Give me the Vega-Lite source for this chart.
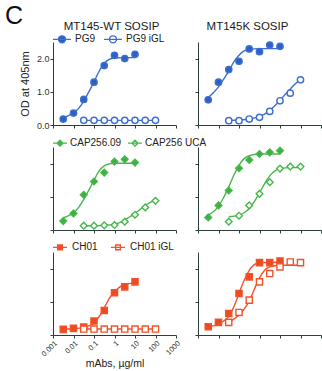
{
  "$schema": "https://vega.github.io/schema/vega-lite/v6.json",
  "background": "white",
  "padding": {"left": 5, "top": 4, "right": 0, "bottom": 0},
  "title": {"text": "C", "anchor": "start", "frame": "group", "fontSize": 25, "fontWeight": "normal", "color": "#111", "dx": -48, "offset": -8.5},
  "columns": 2,
  "spacing": {"row": 22, "column": 22},
  "bounds": "flush",
  "resolve": {"scale": {"fill": "independent", "stroke": "independent", "x": "independent", "y": "independent"}},
  "datasets": {
    "pts": [
      {"panel": "1L", "series": "PG9", "x": 0.00316, "y": 0.18},
      {"panel": "1L", "series": "PG9", "x": 0.01, "y": 0.36},
      {"panel": "1L", "series": "PG9", "x": 0.0316, "y": 0.77},
      {"panel": "1L", "series": "PG9", "x": 0.1, "y": 1.29},
      {"panel": "1L", "series": "PG9", "x": 0.316, "y": 1.79},
      {"panel": "1L", "series": "PG9", "x": 1, "y": 2.1},
      {"panel": "1L", "series": "PG9", "x": 3.16, "y": 2.0},
      {"panel": "1L", "series": "PG9", "x": 10, "y": 2.13},
      {"panel": "1L", "series": "PG9 iGL", "x": 0.0316, "y": 0.14},
      {"panel": "1L", "series": "PG9 iGL", "x": 0.1, "y": 0.14},
      {"panel": "1L", "series": "PG9 iGL", "x": 0.316, "y": 0.14},
      {"panel": "1L", "series": "PG9 iGL", "x": 1, "y": 0.14},
      {"panel": "1L", "series": "PG9 iGL", "x": 3.16, "y": 0.14},
      {"panel": "1L", "series": "PG9 iGL", "x": 10, "y": 0.14},
      {"panel": "1L", "series": "PG9 iGL", "x": 31.6, "y": 0.14},
      {"panel": "1L", "series": "PG9 iGL", "x": 100, "y": 0.14},
      {"panel": "1R", "series": "PG9", "x": 0.00316, "y": 0.76},
      {"panel": "1R", "series": "PG9", "x": 0.01, "y": 1.29},
      {"panel": "1R", "series": "PG9", "x": 0.0316, "y": 1.67},
      {"panel": "1R", "series": "PG9", "x": 0.1, "y": 1.92},
      {"panel": "1R", "series": "PG9", "x": 0.316, "y": 2.29},
      {"panel": "1R", "series": "PG9", "x": 1, "y": 2.21},
      {"panel": "1R", "series": "PG9", "x": 3.16, "y": 2.41},
      {"panel": "1R", "series": "PG9", "x": 10, "y": 2.37},
      {"panel": "1R", "series": "PG9 iGL", "x": 0.0316, "y": 0.13},
      {"panel": "1R", "series": "PG9 iGL", "x": 0.1, "y": 0.13},
      {"panel": "1R", "series": "PG9 iGL", "x": 0.316, "y": 0.18},
      {"panel": "1R", "series": "PG9 iGL", "x": 1, "y": 0.23},
      {"panel": "1R", "series": "PG9 iGL", "x": 3.16, "y": 0.41},
      {"panel": "1R", "series": "PG9 iGL", "x": 10, "y": 0.73},
      {"panel": "1R", "series": "PG9 iGL", "x": 31.6, "y": 0.96},
      {"panel": "1R", "series": "PG9 iGL", "x": 100, "y": 1.36},
      {"panel": "2L", "series": "CAP256.09", "x": 0.00316, "y": 0.27},
      {"panel": "2L", "series": "CAP256.09", "x": 0.01, "y": 0.5},
      {"panel": "2L", "series": "CAP256.09", "x": 0.0316, "y": 1.06},
      {"panel": "2L", "series": "CAP256.09", "x": 0.1, "y": 1.46},
      {"panel": "2L", "series": "CAP256.09", "x": 0.316, "y": 1.73},
      {"panel": "2L", "series": "CAP256.09", "x": 1, "y": 2.06},
      {"panel": "2L", "series": "CAP256.09", "x": 3.16, "y": 2.13},
      {"panel": "2L", "series": "CAP256.09", "x": 10, "y": 2.03},
      {"panel": "2L", "series": "CAP256 UCA", "x": 0.0316, "y": 0.13},
      {"panel": "2L", "series": "CAP256 UCA", "x": 0.1, "y": 0.13},
      {"panel": "2L", "series": "CAP256 UCA", "x": 0.316, "y": 0.14},
      {"panel": "2L", "series": "CAP256 UCA", "x": 1, "y": 0.15},
      {"panel": "2L", "series": "CAP256 UCA", "x": 3.16, "y": 0.25},
      {"panel": "2L", "series": "CAP256 UCA", "x": 10, "y": 0.46},
      {"panel": "2L", "series": "CAP256 UCA", "x": 31.6, "y": 0.68},
      {"panel": "2L", "series": "CAP256 UCA", "x": 100, "y": 0.88},
      {"panel": "2R", "series": "CAP256.09", "x": 0.00316, "y": 0.38},
      {"panel": "2R", "series": "CAP256.09", "x": 0.01, "y": 0.74},
      {"panel": "2R", "series": "CAP256.09", "x": 0.0316, "y": 1.19},
      {"panel": "2R", "series": "CAP256.09", "x": 0.1, "y": 1.86},
      {"panel": "2R", "series": "CAP256.09", "x": 0.316, "y": 2.11},
      {"panel": "2R", "series": "CAP256.09", "x": 1, "y": 2.29},
      {"panel": "2R", "series": "CAP256.09", "x": 3.16, "y": 2.34},
      {"panel": "2R", "series": "CAP256.09", "x": 10, "y": 2.39},
      {"panel": "2R", "series": "CAP256 UCA", "x": 0.0316, "y": 0.25},
      {"panel": "2R", "series": "CAP256 UCA", "x": 0.1, "y": 0.43},
      {"panel": "2R", "series": "CAP256 UCA", "x": 0.316, "y": 0.74},
      {"panel": "2R", "series": "CAP256 UCA", "x": 1, "y": 1.09},
      {"panel": "2R", "series": "CAP256 UCA", "x": 3.16, "y": 1.44},
      {"panel": "2R", "series": "CAP256 UCA", "x": 10, "y": 1.85},
      {"panel": "2R", "series": "CAP256 UCA", "x": 31.6, "y": 1.91},
      {"panel": "2R", "series": "CAP256 UCA", "x": 100, "y": 1.91},
      {"panel": "3L", "series": "CH01", "x": 0.00316, "y": 0.17},
      {"panel": "3L", "series": "CH01", "x": 0.01, "y": 0.2},
      {"panel": "3L", "series": "CH01", "x": 0.0316, "y": 0.24},
      {"panel": "3L", "series": "CH01", "x": 0.1, "y": 0.42},
      {"panel": "3L", "series": "CH01", "x": 0.316, "y": 0.74},
      {"panel": "3L", "series": "CH01", "x": 1, "y": 1.27},
      {"panel": "3L", "series": "CH01", "x": 3.16, "y": 1.45},
      {"panel": "3L", "series": "CH01", "x": 10, "y": 1.6},
      {"panel": "3L", "series": "CH01 iGL", "x": 0.0316, "y": 0.18},
      {"panel": "3L", "series": "CH01 iGL", "x": 0.1, "y": 0.18},
      {"panel": "3L", "series": "CH01 iGL", "x": 0.316, "y": 0.18},
      {"panel": "3L", "series": "CH01 iGL", "x": 1, "y": 0.18},
      {"panel": "3L", "series": "CH01 iGL", "x": 3.16, "y": 0.18},
      {"panel": "3L", "series": "CH01 iGL", "x": 10, "y": 0.18},
      {"panel": "3L", "series": "CH01 iGL", "x": 31.6, "y": 0.18},
      {"panel": "3L", "series": "CH01 iGL", "x": 100, "y": 0.18},
      {"panel": "3R", "series": "CH01", "x": 0.00316, "y": 0.25},
      {"panel": "3R", "series": "CH01", "x": 0.01, "y": 0.38},
      {"panel": "3R", "series": "CH01", "x": 0.0316, "y": 0.65},
      {"panel": "3R", "series": "CH01", "x": 0.1, "y": 1.25},
      {"panel": "3R", "series": "CH01", "x": 0.316, "y": 1.75},
      {"panel": "3R", "series": "CH01", "x": 1, "y": 2.18},
      {"panel": "3R", "series": "CH01", "x": 3.16, "y": 2.18},
      {"panel": "3R", "series": "CH01", "x": 10, "y": 2.23},
      {"panel": "3R", "series": "CH01 iGL", "x": 0.0316, "y": 0.38},
      {"panel": "3R", "series": "CH01 iGL", "x": 0.1, "y": 0.68},
      {"panel": "3R", "series": "CH01 iGL", "x": 0.316, "y": 1.05},
      {"panel": "3R", "series": "CH01 iGL", "x": 1, "y": 1.6},
      {"panel": "3R", "series": "CH01 iGL", "x": 3.16, "y": 1.85},
      {"panel": "3R", "series": "CH01 iGL", "x": 10, "y": 2.05},
      {"panel": "3R", "series": "CH01 iGL", "x": 31.6, "y": 2.2},
      {"panel": "3R", "series": "CH01 iGL", "x": 100, "y": 2.18}
    ],
    "crv": [
      {"panel": "1L", "series": "PG9", "x": 0.00316, "y": 0.22},
      {"panel": "1L", "series": "PG9", "x": 0.0056, "y": 0.28},
      {"panel": "1L", "series": "PG9", "x": 0.01, "y": 0.37},
      {"panel": "1L", "series": "PG9", "x": 0.0178, "y": 0.5},
      {"panel": "1L", "series": "PG9", "x": 0.0316, "y": 0.72},
      {"panel": "1L", "series": "PG9", "x": 0.056, "y": 1.0},
      {"panel": "1L", "series": "PG9", "x": 0.1, "y": 1.3},
      {"panel": "1L", "series": "PG9", "x": 0.178, "y": 1.62},
      {"panel": "1L", "series": "PG9", "x": 0.316, "y": 1.86},
      {"panel": "1L", "series": "PG9", "x": 0.56, "y": 1.98},
      {"panel": "1L", "series": "PG9", "x": 1, "y": 2.02},
      {"panel": "1L", "series": "PG9", "x": 3.16, "y": 2.03},
      {"panel": "1L", "series": "PG9", "x": 10, "y": 2.03},
      {"panel": "1L", "series": "PG9 iGL", "x": 0.0316, "y": 0.14},
      {"panel": "1L", "series": "PG9 iGL", "x": 100, "y": 0.14},
      {"panel": "1R", "series": "PG9", "x": 0.00316, "y": 0.83},
      {"panel": "1R", "series": "PG9", "x": 0.0056, "y": 0.97},
      {"panel": "1R", "series": "PG9", "x": 0.01, "y": 1.15},
      {"panel": "1R", "series": "PG9", "x": 0.0178, "y": 1.38},
      {"panel": "1R", "series": "PG9", "x": 0.0316, "y": 1.62},
      {"panel": "1R", "series": "PG9", "x": 0.056, "y": 1.9},
      {"panel": "1R", "series": "PG9", "x": 0.1, "y": 2.1},
      {"panel": "1R", "series": "PG9", "x": 0.178, "y": 2.23},
      {"panel": "1R", "series": "PG9", "x": 0.316, "y": 2.28},
      {"panel": "1R", "series": "PG9", "x": 1, "y": 2.3},
      {"panel": "1R", "series": "PG9", "x": 10, "y": 2.3},
      {"panel": "1R", "series": "PG9 iGL", "x": 0.0316, "y": 0.14},
      {"panel": "1R", "series": "PG9 iGL", "x": 0.1, "y": 0.15},
      {"panel": "1R", "series": "PG9 iGL", "x": 0.316, "y": 0.18},
      {"panel": "1R", "series": "PG9 iGL", "x": 1, "y": 0.26},
      {"panel": "1R", "series": "PG9 iGL", "x": 1.78, "y": 0.33},
      {"panel": "1R", "series": "PG9 iGL", "x": 3.16, "y": 0.44},
      {"panel": "1R", "series": "PG9 iGL", "x": 5.6, "y": 0.58},
      {"panel": "1R", "series": "PG9 iGL", "x": 10, "y": 0.74},
      {"panel": "1R", "series": "PG9 iGL", "x": 17.8, "y": 0.92},
      {"panel": "1R", "series": "PG9 iGL", "x": 31.6, "y": 1.08},
      {"panel": "1R", "series": "PG9 iGL", "x": 56, "y": 1.24},
      {"panel": "1R", "series": "PG9 iGL", "x": 100, "y": 1.37},
      {"panel": "2L", "series": "CAP256.09", "x": 0.00316, "y": 0.37},
      {"panel": "2L", "series": "CAP256.09", "x": 0.01, "y": 0.52},
      {"panel": "2L", "series": "CAP256.09", "x": 0.0178, "y": 0.68},
      {"panel": "2L", "series": "CAP256.09", "x": 0.0316, "y": 0.92},
      {"panel": "2L", "series": "CAP256.09", "x": 0.056, "y": 1.2},
      {"panel": "2L", "series": "CAP256.09", "x": 0.1, "y": 1.5},
      {"panel": "2L", "series": "CAP256.09", "x": 0.178, "y": 1.78},
      {"panel": "2L", "series": "CAP256.09", "x": 0.316, "y": 1.93},
      {"panel": "2L", "series": "CAP256.09", "x": 0.56, "y": 1.99},
      {"panel": "2L", "series": "CAP256.09", "x": 1, "y": 2.01},
      {"panel": "2L", "series": "CAP256.09", "x": 10, "y": 2.01},
      {"panel": "2L", "series": "CAP256 UCA", "x": 0.0316, "y": 0.13},
      {"panel": "2L", "series": "CAP256 UCA", "x": 0.1, "y": 0.13},
      {"panel": "2L", "series": "CAP256 UCA", "x": 0.316, "y": 0.14},
      {"panel": "2L", "series": "CAP256 UCA", "x": 1, "y": 0.17},
      {"panel": "2L", "series": "CAP256 UCA", "x": 1.78, "y": 0.22},
      {"panel": "2L", "series": "CAP256 UCA", "x": 3.16, "y": 0.3},
      {"panel": "2L", "series": "CAP256 UCA", "x": 5.6, "y": 0.4},
      {"panel": "2L", "series": "CAP256 UCA", "x": 10, "y": 0.5},
      {"panel": "2L", "series": "CAP256 UCA", "x": 17.8, "y": 0.62},
      {"panel": "2L", "series": "CAP256 UCA", "x": 31.6, "y": 0.74},
      {"panel": "2L", "series": "CAP256 UCA", "x": 56, "y": 0.83},
      {"panel": "2L", "series": "CAP256 UCA", "x": 100, "y": 0.89},
      {"panel": "2R", "series": "CAP256.09", "x": 0.00316, "y": 0.45},
      {"panel": "2R", "series": "CAP256.09", "x": 0.0056, "y": 0.55},
      {"panel": "2R", "series": "CAP256.09", "x": 0.01, "y": 0.72},
      {"panel": "2R", "series": "CAP256.09", "x": 0.0178, "y": 0.98},
      {"panel": "2R", "series": "CAP256.09", "x": 0.0316, "y": 1.3},
      {"panel": "2R", "series": "CAP256.09", "x": 0.056, "y": 1.65},
      {"panel": "2R", "series": "CAP256.09", "x": 0.1, "y": 1.95},
      {"panel": "2R", "series": "CAP256.09", "x": 0.178, "y": 2.15},
      {"panel": "2R", "series": "CAP256.09", "x": 0.316, "y": 2.24},
      {"panel": "2R", "series": "CAP256.09", "x": 1, "y": 2.29},
      {"panel": "2R", "series": "CAP256.09", "x": 10, "y": 2.29},
      {"panel": "2R", "series": "CAP256 UCA", "x": 0.0316, "y": 0.4},
      {"panel": "2R", "series": "CAP256 UCA", "x": 0.1, "y": 0.45},
      {"panel": "2R", "series": "CAP256 UCA", "x": 0.178, "y": 0.52},
      {"panel": "2R", "series": "CAP256 UCA", "x": 0.316, "y": 0.65},
      {"panel": "2R", "series": "CAP256 UCA", "x": 0.56, "y": 0.86},
      {"panel": "2R", "series": "CAP256 UCA", "x": 1, "y": 1.12},
      {"panel": "2R", "series": "CAP256 UCA", "x": 1.78, "y": 1.4},
      {"panel": "2R", "series": "CAP256 UCA", "x": 3.16, "y": 1.63},
      {"panel": "2R", "series": "CAP256 UCA", "x": 5.6, "y": 1.78},
      {"panel": "2R", "series": "CAP256 UCA", "x": 10, "y": 1.85},
      {"panel": "2R", "series": "CAP256 UCA", "x": 31.6, "y": 1.88},
      {"panel": "2R", "series": "CAP256 UCA", "x": 100, "y": 1.88},
      {"panel": "3L", "series": "CH01", "x": 0.00316, "y": 0.18},
      {"panel": "3L", "series": "CH01", "x": 0.01, "y": 0.19},
      {"panel": "3L", "series": "CH01", "x": 0.0316, "y": 0.23},
      {"panel": "3L", "series": "CH01", "x": 0.1, "y": 0.37},
      {"panel": "3L", "series": "CH01", "x": 0.178, "y": 0.55},
      {"panel": "3L", "series": "CH01", "x": 0.316, "y": 0.82},
      {"panel": "3L", "series": "CH01", "x": 0.56, "y": 1.1},
      {"panel": "3L", "series": "CH01", "x": 1, "y": 1.3},
      {"panel": "3L", "series": "CH01", "x": 1.78, "y": 1.44},
      {"panel": "3L", "series": "CH01", "x": 3.16, "y": 1.52},
      {"panel": "3L", "series": "CH01", "x": 10, "y": 1.57},
      {"panel": "3L", "series": "CH01 iGL", "x": 0.0316, "y": 0.18},
      {"panel": "3L", "series": "CH01 iGL", "x": 100, "y": 0.18},
      {"panel": "3R", "series": "CH01", "x": 0.00316, "y": 0.25},
      {"panel": "3R", "series": "CH01", "x": 0.01, "y": 0.33},
      {"panel": "3R", "series": "CH01", "x": 0.0178, "y": 0.42},
      {"panel": "3R", "series": "CH01", "x": 0.0316, "y": 0.56},
      {"panel": "3R", "series": "CH01", "x": 0.056, "y": 0.85},
      {"panel": "3R", "series": "CH01", "x": 0.1, "y": 1.25},
      {"panel": "3R", "series": "CH01", "x": 0.178, "y": 1.65},
      {"panel": "3R", "series": "CH01", "x": 0.316, "y": 1.95},
      {"panel": "3R", "series": "CH01", "x": 0.56, "y": 2.12},
      {"panel": "3R", "series": "CH01", "x": 1, "y": 2.18},
      {"panel": "3R", "series": "CH01", "x": 10, "y": 2.19},
      {"panel": "3R", "series": "CH01 iGL", "x": 0.0316, "y": 0.38},
      {"panel": "3R", "series": "CH01 iGL", "x": 0.1, "y": 0.6},
      {"panel": "3R", "series": "CH01 iGL", "x": 0.178, "y": 0.78},
      {"panel": "3R", "series": "CH01 iGL", "x": 0.316, "y": 1.02},
      {"panel": "3R", "series": "CH01 iGL", "x": 0.56, "y": 1.38},
      {"panel": "3R", "series": "CH01 iGL", "x": 1, "y": 1.72},
      {"panel": "3R", "series": "CH01 iGL", "x": 1.78, "y": 1.95},
      {"panel": "3R", "series": "CH01 iGL", "x": 3.16, "y": 2.05},
      {"panel": "3R", "series": "CH01 iGL", "x": 10, "y": 2.1},
      {"panel": "3R", "series": "CH01 iGL", "x": 100, "y": 2.1}
    ]
  },
  "concat": [
    {
      "width": 123, "height": 83,
      "title": {"text": "MT145-WT SOSIP", "dx": -3, "offset": -3},
      "layer": [
        {"data": {"name": "crv"}, "transform": [{"filter": "datum.panel === '1L'"}],
         "mark": {"type": "line", "strokeWidth": 1.4, "interpolate": "monotone"},
         "encoding": {
           "x": {"field": "x", "type": "quantitative", "scale": {"type": "log", "domain": [0.001, 1000], "nice": false}, "axis": {"values": [0.001, 0.01, 0.1, 1, 10, 100, 1000], "labels": false, "title": null}},
           "y": {"field": "y", "type": "quantitative", "scale": {"domain": [0, 2.5], "nice": false}, "axis": {"values": [0, 0.5, 1, 1.5, 2, 2.5], "format": ".1f", "title": "OD at 405nm", "titlePadding": 6}},
           "stroke": {"field": "series", "type": "nominal", "scale": {"domain": ["PG9", "PG9 iGL"], "range": ["#3d6fcf", "#3d6fcf"]}, "legend": {"orient": "none", "legendX": -1, "legendY": -13, "direction": "horizontal", "title": null, "symbolType": "M-1,0H1M-0.39,0A0.39,0.39,0,1,0,0.39,0A0.39,0.39,0,1,0,-0.39,0", "symbolSize": 324, "symbolStrokeWidth": 1.4, "labelFontSize": 10, "labelOffset": 3, "columnPadding": 5, "labelColor": "#222"}}
         }},
        {"data": {"name": "pts"}, "transform": [{"filter": "datum.panel === '1L'"}],
         "mark": {"type": "point", "shape": "circle", "size": 40, "strokeWidth": 1.4, "opacity": 1, "filled": true},
         "encoding": {
           "x": {"field": "x", "type": "quantitative"},
           "y": {"field": "y", "type": "quantitative"},
           "stroke": {"field": "series", "type": "nominal"},
           "fill": {"field": "series", "type": "nominal", "scale": {"domain": ["PG9", "PG9 iGL"], "range": ["#2e5fc6", "white"]}, "legend": {"orient": "none", "legendX": -1, "legendY": -13, "direction": "horizontal", "title": null, "symbolType": "M-1,0H1M-0.39,0A0.39,0.39,0,1,0,0.39,0A0.39,0.39,0,1,0,-0.39,0", "symbolSize": 324, "symbolStrokeWidth": 1.4, "labelFontSize": 10, "labelOffset": 3, "columnPadding": 5, "labelColor": "#222"}}
         }}
      ]
    },
    {
      "width": 123, "height": 83,
      "title": {"text": "MT145K SOSIP", "dx": -12, "offset": -3},
      "layer": [
        {"data": {"name": "crv"}, "transform": [{"filter": "datum.panel === '1R'"}],
         "mark": {"type": "line", "strokeWidth": 1.4, "interpolate": "monotone"},
         "encoding": {
           "x": {"field": "x", "type": "quantitative", "scale": {"type": "log", "domain": [0.001, 1000], "nice": false}, "axis": {"values": [0.001, 0.01, 0.1, 1, 10, 100, 1000], "labels": false, "title": null}},
           "y": {"field": "y", "type": "quantitative", "scale": {"domain": [0, 2.5], "nice": false}, "axis": {"values": [0, 0.5, 1, 1.5, 2, 2.5], "labels": false, "title": null}},
           "stroke": {"field": "series", "type": "nominal", "scale": {"domain": ["PG9", "PG9 iGL"], "range": ["#3d6fcf", "#3d6fcf"]}, "legend": {"orient": "none", "legendX": -1, "legendY": -13, "direction": "horizontal", "title": null, "symbolType": "M0,0", "symbolSize": 324, "symbolStrokeWidth": 0, "labelFontSize": 10, "labelOffset": 3, "columnPadding": 5, "labelOpacity": 0, "labelColor": "white"}}
         }},
        {"data": {"name": "pts"}, "transform": [{"filter": "datum.panel === '1R'"}],
         "mark": {"type": "point", "shape": "circle", "size": 40, "strokeWidth": 1.4, "opacity": 1, "filled": true},
         "encoding": {
           "x": {"field": "x", "type": "quantitative"},
           "y": {"field": "y", "type": "quantitative"},
           "stroke": {"field": "series", "type": "nominal"},
           "fill": {"field": "series", "type": "nominal", "scale": {"domain": ["PG9", "PG9 iGL"], "range": ["#2e5fc6", "white"]}, "legend": {"orient": "none", "legendX": -1, "legendY": -13, "direction": "horizontal", "title": null, "symbolType": "M0,0", "symbolSize": 324, "symbolStrokeWidth": 0, "labelFontSize": 10, "labelOffset": 3, "columnPadding": 5, "labelOpacity": 0, "labelColor": "white"}}
         }}
      ]
    },
    {
      "width": 123, "height": 83,
      "layer": [
        {"data": {"name": "crv"}, "transform": [{"filter": "datum.panel === '2L'"}],
         "mark": {"type": "line", "strokeWidth": 1.4, "interpolate": "monotone"},
         "encoding": {
           "x": {"field": "x", "type": "quantitative", "scale": {"type": "log", "domain": [0.001, 1000], "nice": false}, "axis": {"values": [0.001, 0.01, 0.1, 1, 10, 100, 1000], "labels": false, "title": null}},
           "y": {"field": "y", "type": "quantitative", "scale": {"domain": [0, 2.5], "nice": false}, "axis": {"values": [0, 0.5, 1, 1.5, 2, 2.5], "labels": false, "title": null}},
           "stroke": {"field": "series", "type": "nominal", "scale": {"domain": ["CAP256.09", "CAP256 UCA"], "range": ["#46b84a", "#46b84a"]}, "legend": {"orient": "none", "legendX": -1, "legendY": -12, "direction": "horizontal", "title": null, "symbolType": "M-1,0H1M0,-0.42L0.42,0L0,0.42L-0.42,0Z", "symbolSize": 196, "symbolStrokeWidth": 1.4, "labelFontSize": 10, "labelOffset": 2, "columnPadding": 3, "labelColor": "#222"}}
         }},
        {"data": {"name": "pts"}, "transform": [{"filter": "datum.panel === '2L'"}],
         "mark": {"type": "point", "shape": "diamond", "size": 45, "strokeWidth": 1.4, "opacity": 1, "filled": true},
         "encoding": {
           "x": {"field": "x", "type": "quantitative"},
           "y": {"field": "y", "type": "quantitative"},
           "stroke": {"field": "series", "type": "nominal"},
           "fill": {"field": "series", "type": "nominal", "scale": {"domain": ["CAP256.09", "CAP256 UCA"], "range": ["#3cb040", "white"]}, "legend": {"orient": "none", "legendX": -1, "legendY": -12, "direction": "horizontal", "title": null, "symbolType": "M-1,0H1M0,-0.42L0.42,0L0,0.42L-0.42,0Z", "symbolSize": 196, "symbolStrokeWidth": 1.4, "labelFontSize": 10, "labelOffset": 2, "columnPadding": 3, "labelColor": "#222"}}
         }}
      ]
    },
    {
      "width": 123, "height": 83,
      "layer": [
        {"data": {"name": "crv"}, "transform": [{"filter": "datum.panel === '2R'"}],
         "mark": {"type": "line", "strokeWidth": 1.4, "interpolate": "monotone"},
         "encoding": {
           "x": {"field": "x", "type": "quantitative", "scale": {"type": "log", "domain": [0.001, 1000], "nice": false}, "axis": {"values": [0.001, 0.01, 0.1, 1, 10, 100, 1000], "labels": false, "title": null}},
           "y": {"field": "y", "type": "quantitative", "scale": {"domain": [0, 2.5], "nice": false}, "axis": {"values": [0, 0.5, 1, 1.5, 2, 2.5], "labels": false, "title": null}},
           "stroke": {"field": "series", "type": "nominal", "scale": {"domain": ["CAP256.09", "CAP256 UCA"], "range": ["#46b84a", "#46b84a"]}, "legend": null}
         }},
        {"data": {"name": "pts"}, "transform": [{"filter": "datum.panel === '2R'"}],
         "mark": {"type": "point", "shape": "diamond", "size": 45, "strokeWidth": 1.4, "opacity": 1, "filled": true},
         "encoding": {
           "x": {"field": "x", "type": "quantitative"},
           "y": {"field": "y", "type": "quantitative"},
           "stroke": {"field": "series", "type": "nominal", "legend": null},
           "fill": {"field": "series", "type": "nominal", "scale": {"domain": ["CAP256.09", "CAP256 UCA"], "range": ["#3cb040", "white"]}, "legend": null}
         }}
      ]
    },
    {
      "width": 123, "height": 83,
      "layer": [
        {"data": {"name": "crv"}, "transform": [{"filter": "datum.panel === '3L'"}],
         "mark": {"type": "line", "strokeWidth": 1.4, "interpolate": "monotone"},
         "encoding": {
           "x": {"field": "x", "type": "quantitative", "scale": {"type": "log", "domain": [0.001, 1000], "nice": false}, "axis": {"values": [0.001, 0.01, 0.1, 1, 10, 100, 1000], "format": "~g", "labelAngle": -45, "labelFontSize": 7.5, "title": "mAbs, µg/ml", "titleFontSize": 10.5, "titlePadding": 1}},
           "y": {"field": "y", "type": "quantitative", "scale": {"domain": [0, 2.5], "nice": false}, "axis": {"values": [0, 0.5, 1, 1.5, 2, 2.5], "labels": false, "title": null}},
           "stroke": {"field": "series", "type": "nominal", "scale": {"domain": ["CH01", "CH01 iGL"], "range": ["#f0532a", "#f0532a"]}, "legend": {"orient": "none", "legendX": -1, "legendY": -13, "direction": "horizontal", "title": null, "symbolType": "M-1,0H1M-0.34,-0.34H0.34V0.34H-0.34Z", "symbolSize": 196, "symbolStrokeWidth": 1.4, "labelFontSize": 10, "labelOffset": 4, "columnPadding": 10, "labelColor": "#222"}}
         }},
        {"data": {"name": "pts"}, "transform": [{"filter": "datum.panel === '3L'"}],
         "mark": {"type": "point", "shape": "square", "size": 38, "strokeWidth": 1.4, "opacity": 1, "filled": true},
         "encoding": {
           "x": {"field": "x", "type": "quantitative"},
           "y": {"field": "y", "type": "quantitative"},
           "stroke": {"field": "series", "type": "nominal"},
           "fill": {"field": "series", "type": "nominal", "scale": {"domain": ["CH01", "CH01 iGL"], "range": ["#ee4a22", "white"]}, "legend": {"orient": "none", "legendX": -1, "legendY": -13, "direction": "horizontal", "title": null, "symbolType": "M-1,0H1M-0.34,-0.34H0.34V0.34H-0.34Z", "symbolSize": 196, "symbolStrokeWidth": 1.4, "labelFontSize": 10, "labelOffset": 4, "columnPadding": 10, "labelColor": "#222"}}
         }}
      ]
    },
    {
      "width": 123, "height": 83,
      "layer": [
        {"data": {"name": "crv"}, "transform": [{"filter": "datum.panel === '3R'"}],
         "mark": {"type": "line", "strokeWidth": 1.4, "interpolate": "monotone"},
         "encoding": {
           "x": {"field": "x", "type": "quantitative", "scale": {"type": "log", "domain": [0.001, 1000], "nice": false}, "axis": {"values": [0.001, 0.01, 0.1, 1, 10, 100, 1000], "labels": false, "title": null}},
           "y": {"field": "y", "type": "quantitative", "scale": {"domain": [0, 2.5], "nice": false}, "axis": {"values": [0, 0.5, 1, 1.5, 2, 2.5], "labels": false, "title": null}},
           "stroke": {"field": "series", "type": "nominal", "scale": {"domain": ["CH01", "CH01 iGL"], "range": ["#f0532a", "#f0532a"]}, "legend": null}
         }},
        {"data": {"name": "pts"}, "transform": [{"filter": "datum.panel === '3R'"}],
         "mark": {"type": "point", "shape": "square", "size": 38, "strokeWidth": 1.4, "opacity": 1, "filled": true},
         "encoding": {
           "x": {"field": "x", "type": "quantitative"},
           "y": {"field": "y", "type": "quantitative"},
           "stroke": {"field": "series", "type": "nominal", "legend": null},
           "fill": {"field": "series", "type": "nominal", "scale": {"domain": ["CH01", "CH01 iGL"], "range": ["#ee4a22", "white"]}, "legend": null}
         }}
      ]
    }
  ],
  "config": {
    "font": "Liberation Sans",
    "view": {"stroke": null},
    "title": {"fontSize": 11.5, "fontWeight": "normal", "color": "#1a1a1a", "anchor": "middle"},
    "axis": {"grid": false, "domainColor": "#2c3e3c", "tickColor": "#2c3e3c", "tickSize": 3, "labelPadding": 1, "labelFontSize": 9, "labelColor": "#333", "titleFontSize": 11, "titleFontWeight": "normal", "titleColor": "#222"},
    "legend": {"labelFont": "Liberation Sans"}
  }
}
